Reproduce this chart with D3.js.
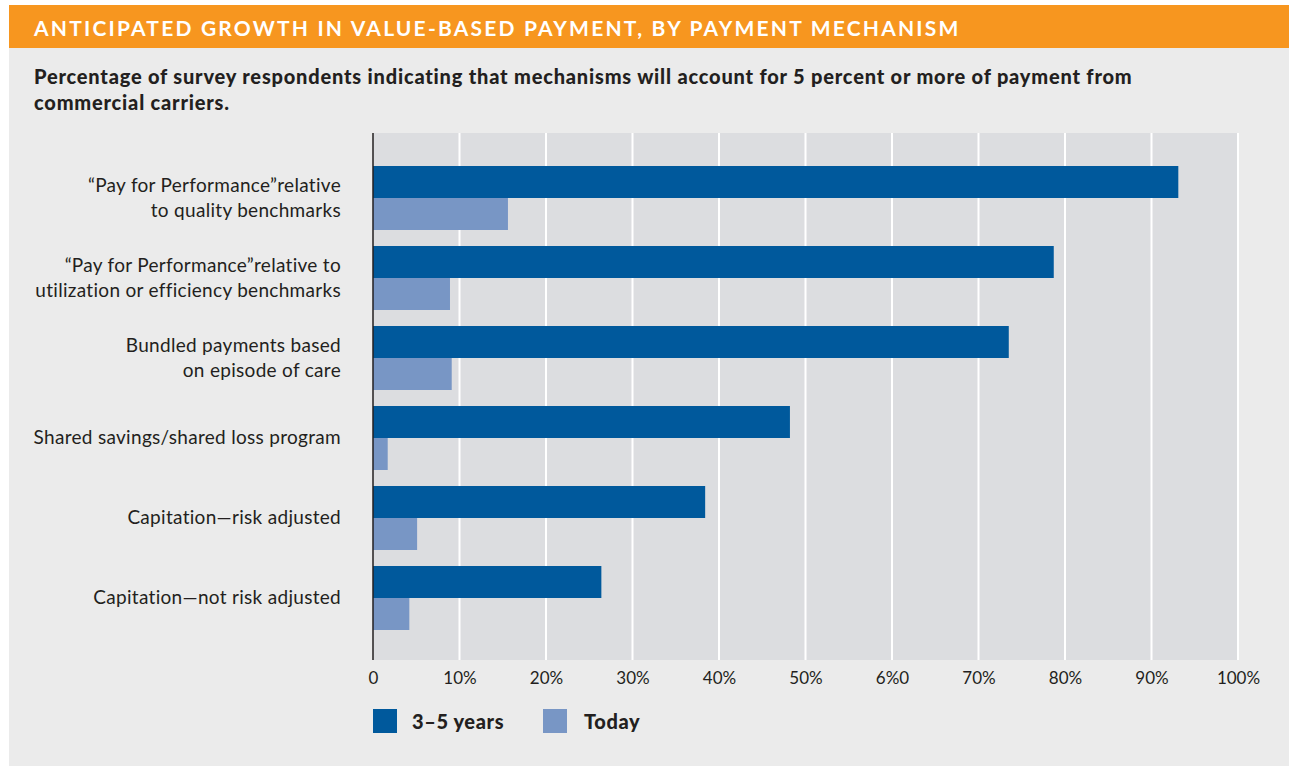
<!DOCTYPE html>
<html>
<head>
<meta charset="utf-8">
<script src="https://cdn.jsdelivr.net/npm/d3@7"></script>
<style>
  body { margin: 0; background: #fff; }
  svg { display: block; font-family: Lato, "Open Sans", sans-serif; }
</style>
</head>
<body>
<svg id="chart" width="1289" height="766"></svg>
<script>
// categories (each label split into lines)
const categories = [
  ["\u201CPay for Performance\u201Drelative", "to quality benchmarks"],
  ["\u201CPay for Performance\u201Drelative to", "utilization or efficiency benchmarks"],
  ["Bundled payments based", "on episode of care"],
  ["Shared savings/shared loss program"],
  ["Capitation\u2014risk adjusted"],
  ["Capitation\u2014not risk adjusted"]
];
const seriesNames = ["3\u20135 years", "Today"];
const future = [93.1, 78.7, 73.5, 48.2, 38.4, 26.4];
const today = [15.6, 8.9, 9.1, 1.7, 5.1, 4.2];
const tickValues = [0, 10, 20, 30, 40, 50, 60, 70, 80, 90, 100];
const tickLabels = ["0", "10%", "20%", "30%", "40%", "50%", "6%0", "70%", "80%", "90%", "100%"];

const colors = ["#00599c", "#7896c5"];

const svg = d3.select("#chart");

// page background
svg.append("rect").attr("x", 9).attr("y", 48).attr("width", 1280).attr("height", 718).attr("fill", "#ebebeb");

// header band
svg.append("rect").attr("x", 9).attr("y", 5).attr("width", 1280).attr("height", 43).attr("fill", "#f7961f");
svg.append("text")
  .attr("x", 34).attr("y", 36)
  .attr("fill", "#fff")
  .attr("font-size", 21).attr("font-weight", 700)
  .attr("letter-spacing", 2.2)
  .text("ANTICIPATED GROWTH IN VALUE-BASED PAYMENT, BY PAYMENT MECHANISM");

// subtitle
const sub = svg.append("text")
  .attr("fill", "#231f20")
  .attr("font-size", 20).attr("font-weight", 900)
  .attr("letter-spacing", 0.8);
sub.append("tspan").attr("x", 34).attr("y", 84)
  .text("Percentage of survey respondents indicating that mechanisms will account for 5 percent or more of payment from");
sub.append("tspan").attr("x", 34).attr("y", 110).text("commercial carriers.");

// scales
const x = d3.scaleLinear().domain([0, 100]).range([373, 1238]);
const y = d3.scaleBand()
  .domain(d3.range(categories.length))
  .range([150, 646])
  .paddingInner(0.2)
  .paddingOuter(0.2);
const ySub = d3.scaleBand().domain([0, 1]).range([0, y.bandwidth()]);

const plotTop = 133, plotBottom = 660;

// plot background
svg.append("rect")
  .attr("x", x(0)).attr("y", plotTop)
  .attr("width", x(100) - x(0)).attr("height", plotBottom - plotTop)
  .attr("fill", "#dcdde0");

// gridlines
svg.append("g")
  .selectAll("line")
  .data(tickValues.slice(1))
  .join("line")
  .attr("x1", (d) => x(d)).attr("x2", (d) => x(d))
  .attr("y1", plotTop).attr("y2", plotBottom)
  .attr("stroke", "#fff").attr("stroke-width", 2);

// bars
const groups = svg.append("g")
  .selectAll("g")
  .data(categories.map((c, i) => [future[i], today[i]]))
  .join("g")
  .attr("transform", (d, i) => `translate(0,${y(i)})`);

groups.selectAll("rect")
  .data((d) => d)
  .join("rect")
  .attr("x", x(0))
  .attr("y", (d, j) => ySub(j))
  .attr("width", (d) => x(d) - x(0))
  .attr("height", ySub.bandwidth())
  .attr("fill", (d, j) => colors[j]);

// left axis line
svg.append("line")
  .attr("x1", x(0)).attr("x2", x(0))
  .attr("y1", plotTop).attr("y2", plotBottom)
  .attr("stroke", "#231f20").attr("stroke-width", 1.5);

// category labels
const lineH = 25;
svg.append("g")
  .selectAll("text")
  .data(categories)
  .join("text")
  .attr("text-anchor", "end")
  .attr("font-size", 19)
  .attr("letter-spacing", 0.3)
  .attr("fill", "#231f20")
  .each(function (lines, i) {
    const cy = y(i) + y.bandwidth() / 2;
    const t = d3.select(this);
    lines.forEach((ln, k) => {
      t.append("tspan")
        .attr("x", 341)
        .attr("y", cy + (k - (lines.length - 1) / 2) * lineH + 6)
        .text(ln);
    });
  });

// x axis
const xAxis = d3.axisBottom(x)
  .tickValues(tickValues)
  .tickFormat((d, i) => tickLabels[i])
  .tickSize(0)
  .tickPadding(0);
const ax = svg.append("g")
  .attr("transform", `translate(0,${plotBottom + 24})`)
  .call(xAxis);
ax.select(".domain").remove();
ax.selectAll("text")
  .attr("font-size", 17)
  .attr("font-family", "Lato, sans-serif")
  .attr("fill", "#231f20")
  .attr("dy", "0");

// legend
const legendX = [373, 543];
const legend = svg.append("g")
  .selectAll("g")
  .data(seriesNames)
  .join("g")
  .attr("transform", (d, i) => `translate(${legendX[i]},709)`);
legend.append("rect")
  .attr("width", 24).attr("height", 24)
  .attr("fill", (d, i) => colors[i]);
legend.append("text")
  .attr("x", (d, i) => (i === 0 ? 39 : 41))
  .attr("y", 20)
  .attr("font-size", 20).attr("font-weight", 900)
  .attr("letter-spacing", 0.6)
  .attr("fill", "#231f20")
  .text((d) => d);
</script>
</body>
</html>
